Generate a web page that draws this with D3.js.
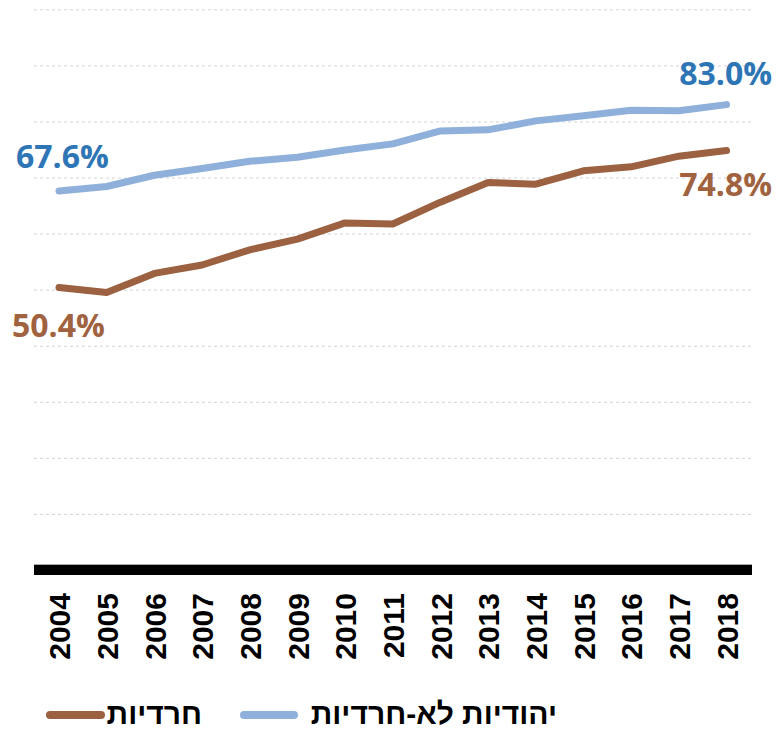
<!DOCTYPE html>
<html>
<head>
<meta charset="utf-8">
<script src="https://cdn.jsdelivr.net/npm/d3@7"></script>
<style>
  body { margin: 0; background: #fff; }
</style>
</head>
<body>
<div id="chart"></div>
<script>
"use strict";

// chart values
const years = [2004, 2005, 2006, 2007, 2008, 2009, 2010, 2011, 2012, 2013, 2014, 2015, 2016, 2017, 2018];
const haredi = [50.4, 49.5, 52.9, 54.4, 57.1, 59.0, 61.9, 61.7, 65.6, 69.1, 68.8, 71.2, 71.9, 73.8, 74.8];
const nonHaredi = [67.6, 68.4, 70.4, 71.6, 72.9, 73.6, 74.9, 76.0, 78.3, 78.5, 80.1, 81.0, 82.0, 81.9, 83.0];
const gridTicks = [10, 20, 30, 40, 50, 60, 70, 80, 90, 100];
const seriesNames = ["חרדיות", "יהודיות לא-חרדיות"];

const msm = {
    width: 777,
    height: 730,
    left: 34,
    right: 752,
    top: 9.3,
    bottom: 570
}
const colors = {
    haredi: "#9c6140",
    nonHaredi: "#8fb0da",
    harediText: "#a0623f",
    nonHarediText: "#2e75b6"
}

let svgContainer = d3.select("#chart")
    .append("svg")
    .attr("width", msm.width)
    .attr("height", msm.height);

let xScale = d3.scalePoint()
    .domain(years)
    .range([59, 726.5]);

let yScale = d3.scaleLinear()
    .domain([0, 100])
    .range([msm.bottom, msm.top]);

// dashed gridlines
svgContainer.append("g")
    .attr("transform", "translate(" + msm.left + ",0)")
    .call(d3.axisLeft(yScale)
        .tickValues(gridTicks)
        .tickSize(-(msm.right - msm.left))
        .tickFormat(""))
    .call(g => g.select(".domain").remove())
    .call(g => g.selectAll(".tick line")
        .attr("stroke", "#d4d4d4")
        .attr("stroke-width", 1)
        .attr("stroke-dasharray", "3,3"));

// thick baseline + year labels
let xAxis = svgContainer.append("g")
    .attr("transform", "translate(0," + yScale(0) + ")")
    .call(d3.axisBottom(xScale).tickSize(0).tickPadding(0));
xAxis.select(".domain").remove();
xAxis.append("line")
    .attr("x1", msm.left).attr("x2", msm.right)
    .attr("y1", -5.5).attr("y2", -5.5)
    .attr("stroke", "#aaa").attr("stroke-width", 1);
xAxis.append("line")
    .attr("x1", msm.left).attr("x2", msm.right)
    .attr("y1", 0).attr("y2", 0)
    .attr("stroke", "#000").attr("stroke-width", 10);
xAxis.selectAll(".tick text")
    .attr("transform", "rotate(-90)")
    .attr("x", -23)
    .attr("y", 0)
    .attr("dy", "0.36em")
    .attr("text-anchor", "end")
    .attr("fill", "#000")
    .style("font-family", "'Liberation Sans', Arial, sans-serif")
    .style("font-weight", "bold")
    .style("font-size", "30px");

let line = d3.line()
    .x((d, i) => xScale(years[i]))
    .y(d => yScale(d));

function drawSeries(values, color) {
    svgContainer.append("path")
        .datum(values)
        .attr("d", line)
        .attr("fill", "none")
        .attr("stroke", color)
        .attr("stroke-width", 7)
        .attr("stroke-linecap", "round")
        .attr("stroke-linejoin", "round");
}
drawSeries(nonHaredi, colors.nonHaredi);
drawSeries(haredi, colors.haredi);

// end-point value labels
function valueLabel(text, x, y, anchor, color) {
    svgContainer.append("text")
        .attr("x", x)
        .attr("y", y)
        .attr("text-anchor", anchor)
        .attr("fill", color)
        .style("font-family", "'Open Sans', 'Noto Sans', sans-serif")
        .style("font-weight", "bold")
        .style("font-size", "32px")
        .text(text);
}
let last = years.length - 1;
valueLabel(nonHaredi[0].toFixed(1) + "%", 16, yScale(nonHaredi[0]) - 23, "start", colors.nonHarediText);
valueLabel(haredi[0].toFixed(1) + "%", 12, yScale(haredi[0]) + 50, "start", colors.harediText);
valueLabel(nonHaredi[last].toFixed(1) + "%", 772, yScale(nonHaredi[last]) - 20, "end", colors.nonHarediText);
valueLabel(haredi[last].toFixed(1) + "%", 772, yScale(haredi[last]) + 45, "end", colors.harediText);

// legend
let legendItems = [
    { name: seriesNames[0], color: colors.haredi, x1: 50, x2: 101, textRight: 202 },
    { name: seriesNames[1], color: colors.nonHaredi, x1: 244, x2: 294, textRight: 557 }
];
let legend = svgContainer.append("g").attr("class", "legend");
legend.selectAll("line")
    .data(legendItems)
    .enter()
    .append("line")
    .attr("x1", d => d.x1).attr("x2", d => d.x2)
    .attr("y1", 715).attr("y2", 715)
    .attr("stroke", d => d.color)
    .attr("stroke-width", 8)
    .attr("stroke-linecap", "round");
legend.selectAll("text")
    .data(legendItems)
    .enter()
    .append("text")
    .attr("x", d => d.textRight)
    .attr("y", 724)
    .attr("text-anchor", "end")
    .attr("fill", "#000")
    .style("font-family", "'Liberation Sans', Arial, sans-serif")
    .style("font-weight", "bold")
    .style("font-size", "30px")
    .text(d => d.name);
</script>
</body>
</html>
